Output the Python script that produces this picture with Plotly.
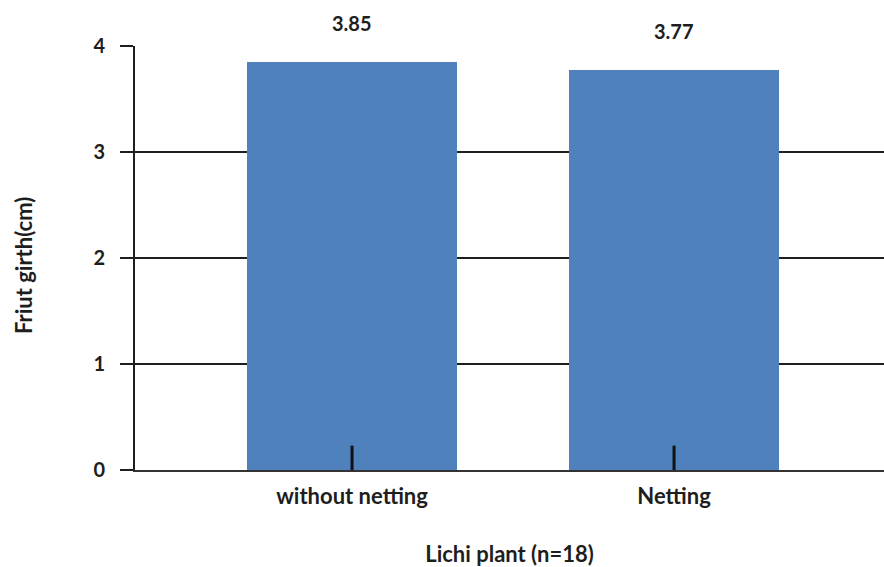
import plotly.graph_objects as go

# Fruit girth of lichi with and without netting
categories = ["without netting", "Netting"]
girth_cm = [3.85, 3.77]
error_stub = [0.23, 0.23]
y_ticks = [0, 1, 2, 3, 4]

FONT = "Lato, Open Sans, sans-serif"
BAR_COLOR = "#4F81BD"
TEXT = "#1e1e1e"

fig = go.Figure()

fig.add_trace(go.Bar(
    x=[0, 1],
    y=girth_cm,
    width=0.652,
    marker=dict(color=BAR_COLOR, line=dict(width=0)),
    hoverinfo="skip",
))

# short dark stubs rising from the base of each bar
fig.add_trace(go.Scatter(
    x=[0, 1],
    y=[0, 0],
    mode="markers",
    marker=dict(size=1, color="rgba(0,0,0,0)"),
    error_y=dict(type="data", array=error_stub, arrayminus=[0, 0],
                 symmetric=False, width=0, thickness=3, color="#111111"),
    hoverinfo="skip",
))

for i, v in enumerate(girth_cm):
    fig.add_annotation(
        x=i, y=v, xref="x", yref="y",
        text=f"<b>{v:.2f}</b>", showarrow=False,
        yanchor="bottom", yshift=25,
        font=dict(family=FONT, size=20, color=TEXT),
    )

# vertical axis title
fig.add_annotation(
    x=-0.1495, y=0.481, xref="paper", yref="paper",
    text="<b>Friut girth(cm)</b>", textangle=-90, showarrow=False,
    xanchor="center", yanchor="middle",
    font=dict(family=FONT, size=22, color=TEXT),
)

fig.update_layout(
    width=884, height=567,
    margin=dict(l=135, r=0, t=46, b=97),
    paper_bgcolor="white", plot_bgcolor="white",
    showlegend=False,
    font=dict(family=FONT, color=TEXT),
    bargap=0,
)

fig.update_xaxes(
    range=[-0.674, 1.652],
    tickmode="array", tickvals=[0, 1],
    ticktext=[f"<b>{c}</b>" for c in categories],
    tickfont=dict(family=FONT, size=22, color=TEXT),
    ticklabelstandoff=6,
    showgrid=False, zeroline=False,
    showline=True, linecolor="#333333", linewidth=2,
    ticks="",
    title=dict(text="<b>Lichi plant (n=18)</b>", standoff=38,
               font=dict(family=FONT, size=22, color=TEXT)),
)

fig.update_yaxes(
    range=[0, 4],
    tickmode="array", tickvals=y_ticks,
    ticktext=[f"<b>{t}</b>" for t in y_ticks],
    tickfont=dict(family=FONT, size=20, color=TEXT),
    ticklabelstandoff=11,
    showgrid=True, gridcolor="#1e1e1e", gridwidth=1.6,
    zeroline=False,
    showline=True, linecolor="#1e1e1e", linewidth=1.6,
    ticks="outside", ticklen=13, tickcolor="#1e1e1e", tickwidth=1.6,
)

fig.write_html("out.html")
